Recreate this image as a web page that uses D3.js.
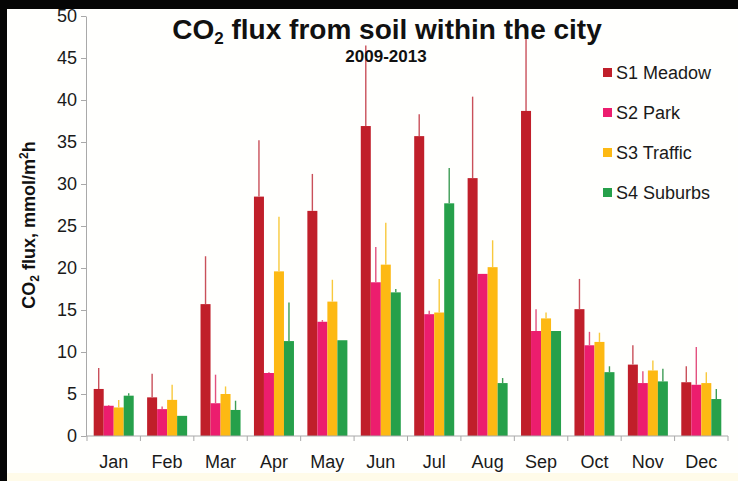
<!DOCTYPE html>
<html><head><meta charset="utf-8">
<script src="https://cdn.jsdelivr.net/npm/d3@7/dist/d3.min.js"></script>
<style>body{margin:0;background:#fff}svg{display:block}text{font-family:"Liberation Sans",Arial,sans-serif}</style>
</head><body>
<svg id="chart" width="738" height="481"></svg>
<script>
const months = ["Jan","Feb","Mar","Apr","May","Jun","Jul","Aug","Sep","Oct","Nov","Dec"];
const seriesNames = ["S1 Meadow","S2 Park","S3 Traffic","S4 Suburbs"];
const s1Meadow  = [5.6, 4.6, 15.7, 28.5, 26.8, 36.9, 35.7, 30.7, 38.7, 15.1, 8.5, 6.4];
const s2Park    = [3.6, 3.2, 3.9, 7.5, 13.6, 18.3, 14.5, 19.3, 12.5, 10.8, 6.3, 6.1];
const s3Traffic = [3.4, 4.3, 5.0, 19.6, 16.0, 20.4, 14.7, 20.1, 14.0, 11.2, 7.8, 6.3];
const s4Suburbs = [4.8, 2.4, 3.1, 11.3, 11.4, 17.1, 27.7, 6.3, 12.5, 7.6, 6.5, 4.4];
// upper ends of the error bars (mean + error)
const s1Upper = [8.1, 7.4, 21.4, 35.2, 31.2, 46.5, 38.3, 40.4, 47.5, 18.7, 10.8, 8.3];
const s2Upper = [3.7, 3.5, 7.3, 7.6, 13.8, 22.5, 14.9, 19.3, 15.1, 12.4, 7.7, 10.6];
const s3Upper = [4.3, 6.1, 5.9, 26.1, 18.6, 25.4, 18.7, 23.3, 14.7, 12.3, 9.0, 7.6];
const s4Upper = [5.1, 2.4, 4.2, 15.9, 11.4, 17.5, 31.9, 6.9, 12.5, 8.3, 8.0, 5.6];
const yTicks = [0,5,10,15,20,25,30,35,40,45,50];

const values = [s1Meadow, s2Park, s3Traffic, s4Suburbs];
const uppers = [s1Upper, s2Upper, s3Upper, s4Upper];
const barColors = ["#c01f2a","#ec1d6e","#fdb913","#26a04a"];
const errColors = ["#c9505a","#e3507f","#f8c93c","#3d9c55"];

const svg = d3.select("#chart");
// frame
svg.append("rect").attr("width",738).attr("height",481).attr("fill","#fffffd");
svg.append("rect").attr("x",0).attr("y",473).attr("width",738).attr("height",8).attr("fill","#fffbe9");
svg.append("rect").attr("x",0).attr("y",0).attr("width",738).attr("height",9).attr("fill","#050505");
svg.append("rect").attr("x",0).attr("y",0).attr("width",7).attr("height",481).attr("fill","#050505");

const plotL = 86, plotR = 728, plotT = 16, plotB = 436;
const y = d3.scaleLinear().domain([0,50]).range([plotB, plotT]);
const x0 = d3.scaleBand().domain(months).range([plotL+1, plotR]);
const x1 = d3.scaleBand().domain(d3.range(4)).range([0, x0.bandwidth()]).paddingOuter(0.67);

// y axis
const yAxis = svg.append("g").attr("transform",`translate(${plotL},0)`)
  .call(d3.axisLeft(y).tickValues(yTicks).tickSize(5).tickSizeOuter(0).tickPadding(4));
yAxis.select(".domain").attr("stroke","#a9a9a9");
yAxis.selectAll(".tick line").attr("stroke","#a9a9a9");
yAxis.selectAll(".tick text").attr("font-size",18).attr("fill","#1a1a1a");

// bars + error bars
const groups = svg.append("g").selectAll("g").data(months).join("g")
  .attr("transform", m => `translate(${x0(m)},0)`);
values.forEach((vals, si) => {
  const cx = x1(si) + x1.bandwidth()/2;
  groups.append("rect")
    .attr("x", x1(si)).attr("width", x1.bandwidth())
    .attr("y", (m,i) => y(vals[i])).attr("height", (m,i) => y(0) - y(vals[i]))
    .attr("fill", barColors[si]);
  groups.filter((m,i) => uppers[si][i] > vals[i] + 0.05).append("line")
    .attr("x1", cx).attr("x2", cx)
    .attr("y1", m => y(vals[months.indexOf(m)]))
    .attr("y2", m => y(uppers[si][months.indexOf(m)]))
    .attr("stroke", errColors[si]).attr("stroke-width",1.4);
});

// x axis
const xg = svg.append("g").attr("transform",`translate(0,${plotB})`);
xg.append("line").attr("x1",plotL).attr("x2",plotR).attr("stroke","#a9a9a9");
const bounds = months.map(m => x0(m)).concat([x0.range()[1]]);
xg.selectAll("line.tk").data(bounds).join("line").attr("class","tk")
  .attr("x1",d=>d).attr("x2",d=>d).attr("y1",0).attr("y2",5).attr("stroke","#a9a9a9");
xg.selectAll("text").data(months).join("text")
  .attr("x", m => x0(m) + x0.bandwidth()/2).attr("y", 32)
  .attr("text-anchor","middle").attr("font-size",18).attr("fill","#1a1a1a").text(m=>m);

// titles
const t = svg.append("text").attr("x",387).attr("y",39).attr("text-anchor","middle")
  .attr("font-size",28).attr("font-weight","bold").attr("fill","#111");
t.append("tspan").text("CO");
t.append("tspan").attr("font-size",17).attr("dy",5).text("2");
t.append("tspan").attr("dy",-5).text(" flux from soil within the city");
svg.append("text").attr("x",386).attr("y",62).attr("text-anchor","middle")
  .attr("font-size",17).attr("font-weight","bold").attr("fill","#111").text("2009-2013");

// y label
const yl = svg.append("text").attr("transform","translate(35,225) rotate(-90)")
  .attr("text-anchor","middle").attr("font-size",18).attr("font-weight","bold").attr("fill","#111");
yl.append("tspan").text("CO");
yl.append("tspan").attr("font-size",12).attr("dy",4).text("2");
yl.append("tspan").attr("dy",-4).text(" flux, mmol/m");
yl.append("tspan").attr("font-size",12).attr("dy",-7).text("2");
yl.append("tspan").attr("dy",7).text("h");

// legend
const lg = svg.append("g").selectAll("g").data(seriesNames).join("g")
  .attr("transform",(d,i)=>`translate(603,${79 + i*40})`);
lg.append("rect").attr("x",0).attr("y",-11).attr("width",9).attr("height",9).attr("fill",(d,i)=>barColors[i]);
lg.append("text").attr("x",13).attr("y",0).attr("font-size",18).attr("fill","#1a1a1a").text(d=>d);
</script>
</body></html>
